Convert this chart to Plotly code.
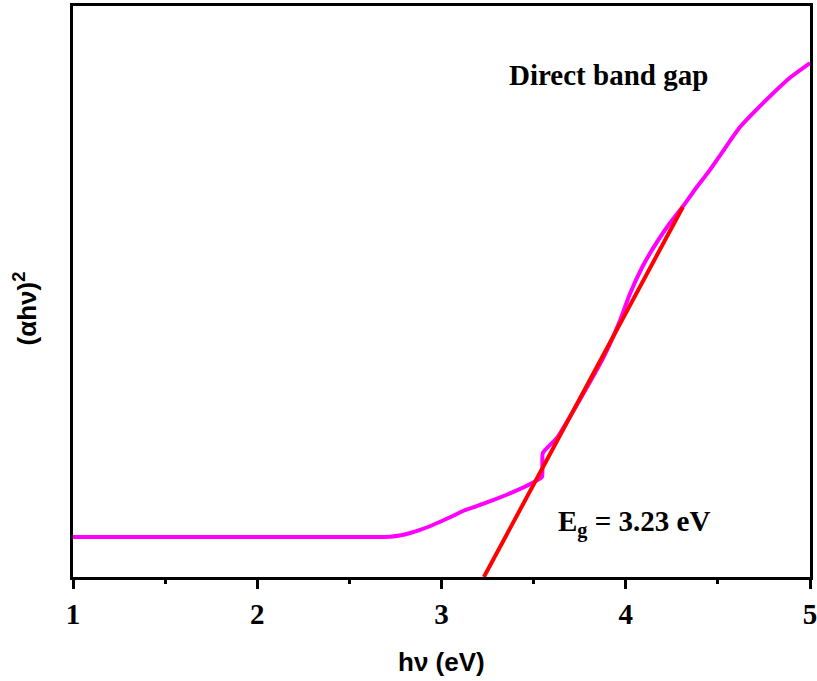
import plotly.graph_objects as go

# Data (y in arbitrary units, 0-100)
hv = [1.0, 1.5, 2.0, 2.23, 2.61, 2.72, 2.78, 2.83, 2.88, 2.93, 2.98, 3.05, 3.12, 3.25, 3.39,
      3.50, 3.545, 3.55, 3.63, 3.75, 3.88, 3.97, 4.02, 4.09, 4.17, 4.24, 4.31, 4.37, 4.457,
      4.528, 4.62, 4.745, 4.89, 5.0]
ahv2 = [7.0, 7.0, 7.0, 7.0, 7.0, 7.05, 7.3, 7.7, 8.2, 8.8, 9.5, 10.5, 11.6, 13.1, 14.9,
        16.6, 17.5, 21.7, 24.5, 31.0, 38.5, 45.0, 49.4, 54.3, 58.7, 62.0, 64.9, 67.6, 71.3,
        74.6, 78.8, 83.0, 87.4, 90.0]
fit_x = [3.23, 4.31]
fit_y = [0.0, 64.8]
tick_vals = [1, 2, 3, 4, 5]
tick_text = ["1", "2", "3", "4", "5"]

fig = go.Figure()
fig.add_trace(go.Scatter(x=hv, y=ahv2, mode="lines",
                         line=dict(color="#ff00ff", width=4, shape="spline", smoothing=0.5),
                         showlegend=False))
fig.add_trace(go.Scatter(x=fit_x, y=fit_y, mode="lines", line=dict(color="#ff0000", width=4),
                         showlegend=False))

fig.update_layout(
    width=817, height=681,
    margin=dict(l=73, r=7, t=6, b=104, autoexpand=False),
    plot_bgcolor="white", paper_bgcolor="white",
    xaxis=dict(range=[1, 5], tickvals=tick_vals, ticktext=tick_text, ticks="outside",
               ticklen=9, tickwidth=3, tickcolor="black", showline=True, linewidth=3,
               linecolor="black", mirror=True, showgrid=False, zeroline=False, automargin=False,
               ticklabeloverflow="allow",
               tickfont=dict(family="Liberation Serif", size=29, color="black", weight="bold"),
               minor=dict(dtick=0.5, tick0=1, ticks="outside", ticklen=4, tickwidth=3,
                          tickcolor="black", showgrid=False)),
    yaxis=dict(range=[0, 100], showticklabels=False, ticks="", showline=True, linewidth=3,
               linecolor="black", mirror=True, showgrid=False, zeroline=False, automargin=False),
    annotations=[
        dict(text="<b>Direct band gap</b>", x=3.355, y=87.9, xref="x", yref="y", showarrow=False,
             xanchor="left", yanchor="middle",
             font=dict(family="Liberation Serif", size=29, color="black")),
        dict(text="<b>E<sub>g</sub> = 3.23 eV</b>", x=3.62, y=9.3, xref="x", yref="y", showarrow=False,
             xanchor="left", yanchor="middle",
             font=dict(family="Liberation Serif", size=29, color="black")),
        dict(text="<b>hν (eV)</b>", x=3.0, y=-0.149, xref="x", yref="paper", showarrow=False,
             yanchor="middle", font=dict(family="Liberation Sans", size=26, color="black")),
        dict(text="<b>(αhν)<sup>2</sup></b>", x=-0.064, y=0.47, xref="paper", yref="paper", showarrow=False,
             textangle=-90, xanchor="center", yanchor="middle",
             font=dict(family="Liberation Sans", size=26, color="black")),
    ],
)

fig.write_html("out.html", config={"displayModeBar": False},
               post_script="document.body.style.margin='0px';")
